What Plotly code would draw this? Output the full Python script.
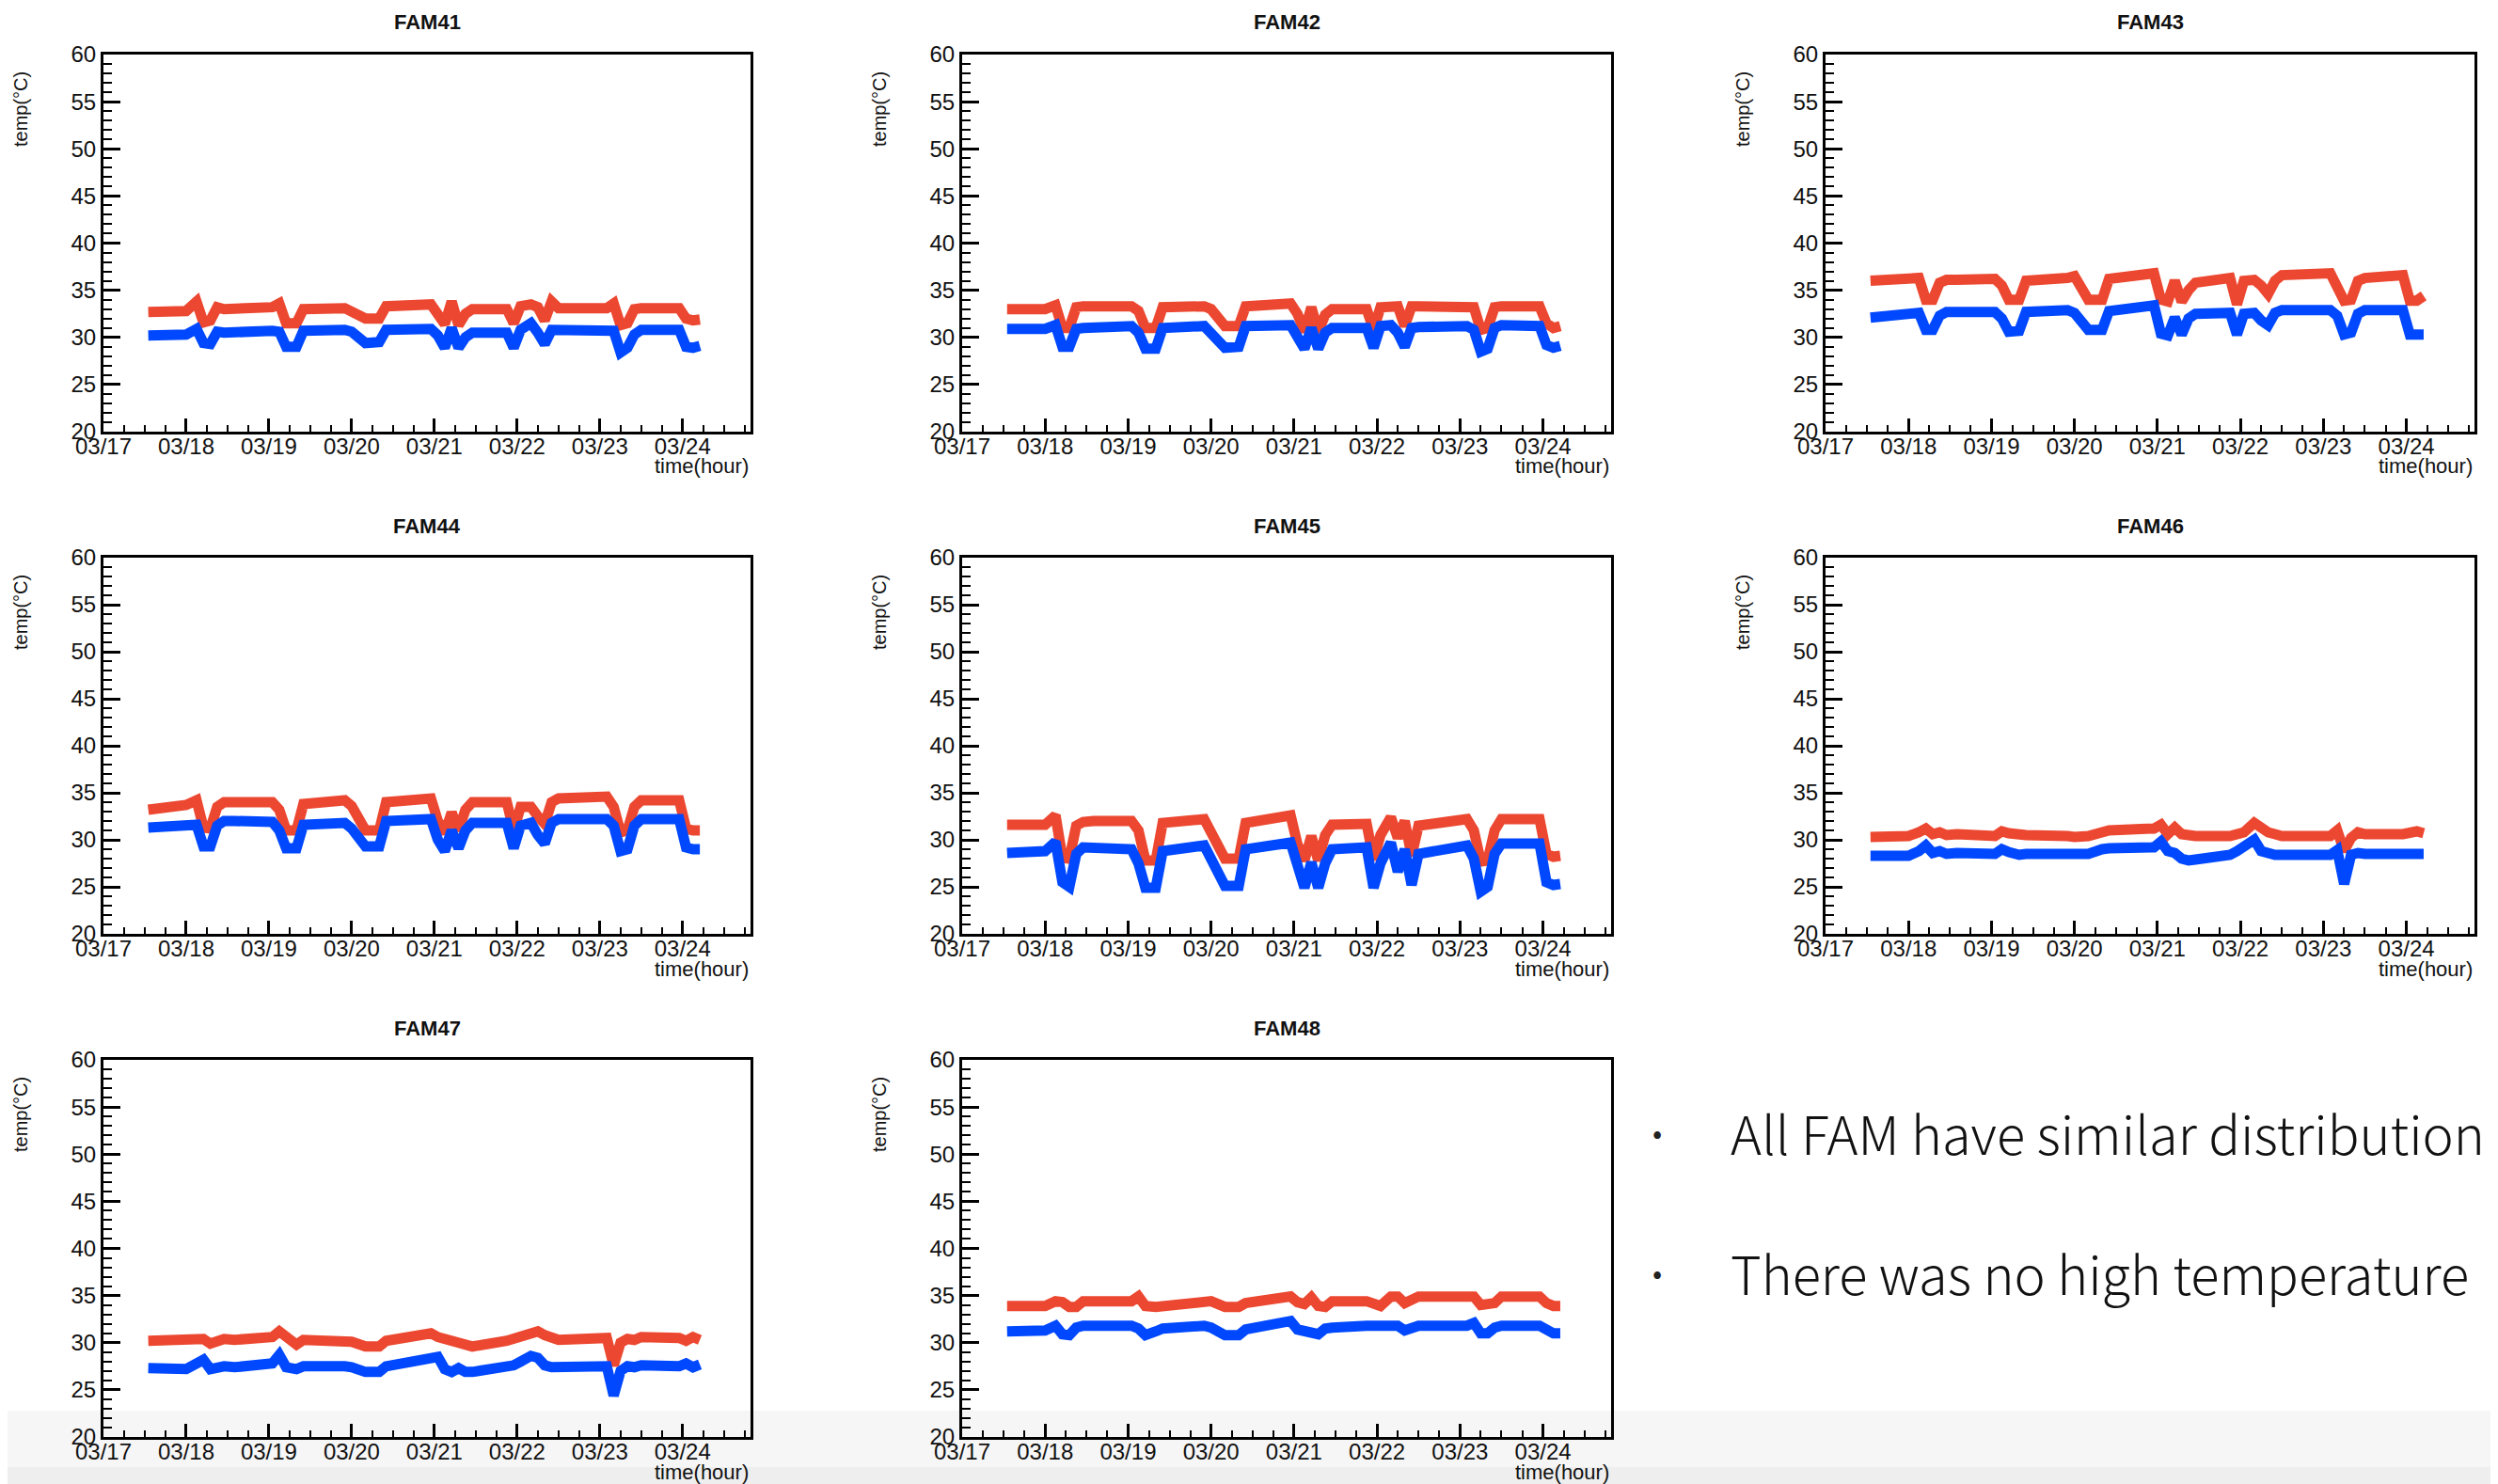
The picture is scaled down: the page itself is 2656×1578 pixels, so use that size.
import pandas as pd
import plotly.graph_objects as go

W, H = 2656, 1578
PAGE_OFFSET = 8  # default page margin of the html body
DAY0 = "2017-03-17"

PANELS = ["FAM41", "FAM42", "FAM43", "FAM44", "FAM45", "FAM46", "FAM47", "FAM48"]

# hours after 03/17 00:00 at which the temperature values below were read
HOURS = [13, 24, 27, 29, 31, 33, 35, 38, 49, 51, 53, 56, 58, 70, 72, 76, 80, 82, 95, 97,
         99, 101, 103, 105, 107, 117, 119, 121, 124, 126, 128, 130, 132, 146, 148, 150, 152, 154, 156, 167,
         169, 171, 173]

FAM41_RED = [32.7, 32.8, 33.8, 31.6, 31.8, 33.2, 33.0, 33.0, 33.2, 33.6,
             31.5, 31.5, 33.0, 33.1, 32.8, 32.0, 32.0, 33.3, 33.5, 32.5,
             31.4, 33.8, 31.3, 32.5, 33.0, 33.0, 31.5, 33.3, 33.5, 33.2,
             31.8, 33.8, 33.1, 33.1, 33.6, 31.3, 31.5, 33.0, 33.1, 33.1,
             32.0, 31.8, 31.9]
FAM41_BLUE = [30.2, 30.3, 30.9, 29.4, 29.3, 30.6, 30.5, 30.6, 30.7, 30.6,
              29.0, 29.0, 30.7, 30.8, 30.6, 29.4, 29.5, 30.8, 30.9, 30.2,
              28.9, 31.0, 28.9, 30.0, 30.5, 30.5, 28.9, 30.8, 31.5, 30.5,
              29.3, 30.8, 30.8, 30.8, 30.7, 28.4, 28.9, 30.3, 30.8, 30.8,
              29.0, 28.9, 29.1]

FAM42_RED = [33.0, 33.0, 33.4, 31.0, 31.0, 33.2, 33.3, 33.3, 33.3, 32.8,
             31.0, 31.0, 33.2, 33.3, 33.0, 31.2, 31.2, 33.3, 33.6, 32.5,
             30.6, 33.2, 30.6, 32.4, 33.0, 33.0, 30.8, 33.2, 33.3, 33.3,
             31.2, 33.3, 33.3, 33.3, 33.2, 30.8, 31.0, 33.2, 33.3, 33.3,
             31.5, 31.0, 31.2]
FAM42_BLUE = [30.9, 30.9, 31.3, 29.0, 29.0, 30.9, 31.0, 31.1, 31.2, 30.5,
              28.8, 28.8, 31.0, 31.2, 30.5, 28.9, 29.0, 31.2, 31.3, 30.0,
              28.8, 31.0, 28.8, 30.5, 31.0, 31.0, 28.9, 31.2, 31.3, 30.5,
              29.0, 31.0, 31.1, 31.2, 30.8, 28.5, 28.8, 31.0, 31.3, 31.2,
              29.2, 28.9, 29.1]

FAM43_RED = [36.0, 36.2, 36.3, 34.0, 34.0, 35.8, 36.1, 36.1, 36.2, 35.5,
             34.0, 34.0, 36.0, 36.3, 36.5, 34.0, 34.0, 36.2, 36.8, 34.0,
             33.8, 36.0, 33.8, 35.0, 35.8, 36.3, 33.5, 36.0, 36.1, 35.5,
             34.6, 36.0, 36.6, 36.8, 35.5, 33.9, 34.0, 36.0, 36.3, 36.6,
             33.9, 33.9, 34.4]
FAM43_BLUE = [32.1, 32.3, 32.6, 30.8, 30.8, 32.3, 32.7, 32.7, 32.7, 32.0,
              30.6, 30.7, 32.7, 32.9, 32.6, 30.8, 30.8, 32.8, 33.4, 30.4,
              30.2, 32.1, 30.3, 32.0, 32.5, 32.6, 30.3, 32.5, 32.6, 31.8,
              31.3, 32.6, 32.9, 32.9, 32.3, 30.3, 30.5, 32.5, 32.9, 32.9,
              30.3, 30.3, 30.3]

FAM44_RED = [33.2, 33.7, 34.2, 31.3, 31.2, 33.5, 34.0, 34.0, 34.0, 33.2,
             31.0, 31.0, 33.8, 34.2, 33.6, 31.0, 31.0, 34.0, 34.4, 32.0,
             30.7, 32.9, 31.0, 33.2, 34.0, 34.0, 31.0, 33.5, 33.5, 32.5,
             31.7, 34.0, 34.4, 34.6, 33.5, 30.8, 31.0, 33.5, 34.2, 34.2,
             31.2, 31.0, 31.0]
FAM44_BLUE = [31.3, 31.4, 31.6, 29.3, 29.3, 31.5, 32.0, 32.0, 31.9, 31.0,
              29.1, 29.1, 31.6, 31.8, 31.2, 29.3, 29.3, 32.0, 32.2, 30.0,
              28.8, 31.0, 29.1, 31.0, 31.8, 31.8, 29.1, 31.5, 31.8, 30.5,
              29.6, 31.8, 32.2, 32.2, 31.5, 28.8, 29.0, 31.5, 32.2, 32.2,
              29.2, 29.0, 29.0]

FAM45_RED = [31.6, 31.6, 32.6, 28.1, 28.0, 31.5, 31.9, 32.0, 32.0, 31.0,
             27.8, 27.8, 31.8, 32.2, 30.8, 28.0, 28.0, 31.8, 32.6, 29.5,
             27.8, 30.4, 27.8, 30.5, 31.6, 31.7, 27.9, 30.5, 32.4, 30.2,
             32.0, 28.3, 31.5, 32.2, 31.0, 27.7, 27.8, 31.0, 32.2, 32.2,
             28.5, 28.2, 28.3]
FAM45_BLUE = [28.6, 28.8, 29.8, 25.5, 25.0, 28.5, 29.2, 29.2, 29.0, 27.5,
              24.9, 24.9, 28.8, 29.4, 28.0, 25.1, 25.1, 29.0, 29.7, 27.0,
              24.9, 27.6, 24.9, 27.5, 29.0, 29.2, 24.9, 27.5, 29.7, 26.6,
              29.0, 25.2, 28.5, 29.4, 28.0, 24.5, 25.0, 28.5, 29.6, 29.6,
              25.5, 25.2, 25.3]

FAM46_RED = [30.3, 30.4, 30.8, 31.2, 30.6, 30.8, 30.5, 30.6, 30.4, 30.9,
             30.7, 30.5, 30.5, 30.4, 30.3, 30.4, 30.8, 31.0, 31.2, 31.6,
             30.6, 31.3, 30.6, 30.4, 30.4, 30.4, 30.6, 30.8, 31.8, 31.2,
             30.8, 30.6, 30.4, 30.4, 31.0, 28.8, 30.2, 30.8, 30.6, 30.6,
             30.8, 30.9, 30.7]
FAM46_BLUE = [28.3, 28.3, 28.8, 29.4, 28.6, 28.8, 28.5, 28.6, 28.5, 29.0,
              28.7, 28.4, 28.5, 28.4, 28.4, 28.5, 29.0, 29.1, 29.2, 29.8,
              28.8, 28.6, 28.0, 27.8, 27.9, 28.4, 28.8, 29.2, 30.0, 28.8,
              28.5, 28.4, 28.4, 28.4, 28.9, 25.3, 28.4, 28.6, 28.5, 28.5,
              28.6, 28.6, 28.5]

FAM47_RED = [30.2, 30.3, 30.6, 30.4, 29.9, 30.2, 30.4, 30.3, 30.6, 31.2,
             30.5, 29.8, 30.3, 30.2, 30.1, 29.6, 29.6, 30.2, 31.0, 30.6,
             30.3, 30.2, 30.0, 29.8, 29.6, 30.2, 30.4, 30.6, 31.1, 31.2,
             30.8, 30.4, 30.3, 30.5, 27.6, 30.0, 30.4, 30.3, 30.6, 30.5,
             30.2, 30.6, 30.3]
FAM47_BLUE = [27.3, 27.2, 27.8, 28.2, 27.2, 27.4, 27.5, 27.4, 27.8, 28.7,
              27.4, 27.2, 27.5, 27.5, 27.4, 26.9, 26.9, 27.5, 28.2, 28.5,
              27.2, 26.9, 27.3, 26.9, 26.9, 27.3, 27.6, 28.0, 28.6, 28.4,
              27.6, 27.4, 27.4, 27.5, 24.4, 27.0, 27.5, 27.4, 27.6, 27.5,
              27.8, 27.4, 27.7]

FAM48_RED = [33.9, 33.9, 34.4, 34.3, 33.8, 33.8, 34.4, 34.4, 34.4, 34.9,
             33.9, 33.8, 33.9, 34.4, 34.4, 33.8, 33.8, 34.2, 34.9, 34.3,
             34.1, 34.8, 33.9, 33.8, 34.4, 34.4, 34.0, 33.9, 34.9, 34.9,
             34.2, 34.6, 34.9, 34.9, 34.9, 34.0, 34.0, 34.2, 34.9, 34.9,
             34.2, 33.9, 33.9]
FAM48_BLUE = [31.2, 31.3, 31.8, 30.9, 30.8, 31.6, 31.8, 31.8, 31.8, 31.5,
              30.8, 31.2, 31.5, 31.8, 31.6, 30.8, 30.8, 31.4, 32.3, 31.4,
              31.3, 31.2, 30.9, 31.5, 31.6, 31.8, 31.8, 31.7, 31.8, 31.8,
              31.3, 31.7, 31.8, 31.8, 32.1, 31.0, 31.0, 31.6, 31.8, 31.8,
              31.3, 31.0, 31.0]

RED_SERIES = [FAM41_RED, FAM42_RED, FAM43_RED, FAM44_RED, FAM45_RED, FAM46_RED, FAM47_RED, FAM48_RED]
BLUE_SERIES = [FAM41_BLUE, FAM42_BLUE, FAM43_BLUE, FAM44_BLUE, FAM45_BLUE, FAM46_BLUE, FAM47_BLUE, FAM48_BLUE]

Y_TICKS = [20, 25, 30, 35, 40, 45, 50, 55, 60]
X_TICK_LABELS = ["03/17", "03/18", "03/19", "03/20", "03/21", "03/22", "03/23", "03/24"]
NOTES = ["All FAM have similar distribution", "There was no high temperature"]

# ---- styling / geometry (window pixel coordinates) ----
RED = "#EC4730"
BLUE = "#0048FF"
COLS = [(110, 798), (1023, 1713), (1941, 2631)]
ROWS = [(58, 459), (593, 993), (1127, 1528)]
TICK_FONT = dict(family="Liberation Sans, Arial, sans-serif", size=24, color="#111")

FW, FH = W - PAGE_OFFSET, H - PAGE_OFFSET

start = pd.Timestamp(DAY0)
times = [start + pd.Timedelta(hours=h) for h in HOURS]
x_range = [start, start + pd.Timedelta(hours=187.7)]
tick_vals = [start + pd.Timedelta(days=i) for i in range(len(X_TICK_LABELS))]


def px(x):
    return (x - PAGE_OFFSET) / FW


def py(y):
    return 1 - (y - PAGE_OFFSET) / FH


fig = go.Figure()
layout = dict(
    template="none",
    width=FW, height=FH,
    autosize=False,
    margin=dict(l=0, r=0, t=0, b=0, pad=0, autoexpand=False),
    paper_bgcolor="white",
    plot_bgcolor="rgba(0,0,0,0)",
    showlegend=False,
    annotations=[],
    shapes=[],
)

for i, name in enumerate(PANELS):
    r, c = divmod(i, 3)
    (xl, xr), (yt, yb) = COLS[c], ROWS[r]
    sfx = "" if i == 0 else str(i + 1)
    fig.add_trace(go.Scatter(x=times, y=RED_SERIES[i], mode="lines",
                             line=dict(color=RED, width=11), xaxis="x" + sfx, yaxis="y" + sfx,
                             name=name + " red"))
    fig.add_trace(go.Scatter(x=times, y=BLUE_SERIES[i], mode="lines",
                             line=dict(color=BLUE, width=11), xaxis="x" + sfx, yaxis="y" + sfx,
                             name=name + " blue"))
    layout["xaxis" + sfx] = dict(
        domain=[px(xl), px(xr)], anchor="y" + sfx, type="date", range=x_range,
        automargin=False,
        tickvals=tick_vals, ticktext=X_TICK_LABELS,
        ticks="inside", ticklen=14, tickwidth=3, tickcolor="black",
        ticklabelstandoff=-8,
        showline=True, linewidth=3, linecolor="black", mirror=True,
        showgrid=False, zeroline=False, tickfont=TICK_FONT, fixedrange=True,
        minor=dict(ticks="inside", ticklen=7, tickwidth=2, tickcolor="black",
                   dtick=6 * 3600 * 1000, tick0=DAY0, showgrid=False),
    )
    layout["yaxis" + sfx] = dict(
        domain=[py(yb), py(yt)], anchor="x" + sfx, range=[20, 60],
        automargin=False,
        tickvals=Y_TICKS, ticks="inside", ticklen=18, tickwidth=3, tickcolor="black",
        showline=True, linewidth=3, linecolor="black", mirror=True,
        showgrid=False, zeroline=False, tickfont=TICK_FONT, fixedrange=True,
        minor=dict(ticks="inside", ticklen=9, tickwidth=2, tickcolor="black",
                   dtick=1, tick0=20, showgrid=False),
    )
    layout["annotations"].append(dict(
        text="<b>" + name + "</b>", x=px((xl + xr) / 2), y=py(yt - 34), xref="paper", yref="paper",
        showarrow=False, xanchor="center", yanchor="middle",
        font=dict(family="Liberation Sans, Arial, sans-serif", size=22, color="#111")))
    layout["annotations"].append(dict(
        text="time(hour)", x=px(xr), y=py(yb + 37), xref="paper", yref="paper",
        showarrow=False, xanchor="right", yanchor="middle",
        font=dict(family="Liberation Sans, Arial, sans-serif", size=22, color="#111")))
    layout["annotations"].append(dict(
        text="temp(°C)", x=px(xl - 88), y=py(yt + 58), xref="paper", yref="paper",
        showarrow=False, xanchor="center", yanchor="middle", textangle=-90,
        font=dict(family="Liberation Sans, Arial, sans-serif", size=20, color="#111")))

# light footer band of the slide
layout["shapes"].append(dict(type="rect", xref="paper", yref="paper", x0=0, x1=1,
                             y0=0, y1=py(1500), fillcolor="#f6f6f6", line=dict(width=0), layer="below"))
layout["shapes"].append(dict(type="rect", xref="paper", yref="paper", x0=0, x1=1,
                             y0=0, y1=py(1560), fillcolor="#eeeeee", line=dict(width=0), layer="below"))

for j, note in enumerate(NOTES):
    yc = 1203 + j * 149
    layout["annotations"].append(dict(
        text="•", x=px(1762), y=py(yc), xref="paper", yref="paper", showarrow=False,
        xanchor="center", yanchor="middle",
        font=dict(family="Noto Sans CJK KR, Noto Sans, sans-serif", size=30, color="#222")))
    layout["annotations"].append(dict(
        text=note, x=px(1838), y=py(yc), xref="paper", yref="paper", showarrow=False,
        xanchor="left", yanchor="middle",
        font=dict(family="Noto Sans CJK KR, Noto Sans, sans-serif", size=56, color="#111", weight=300)))

fig.update_layout(**layout)
fig.write_html("out.html")
